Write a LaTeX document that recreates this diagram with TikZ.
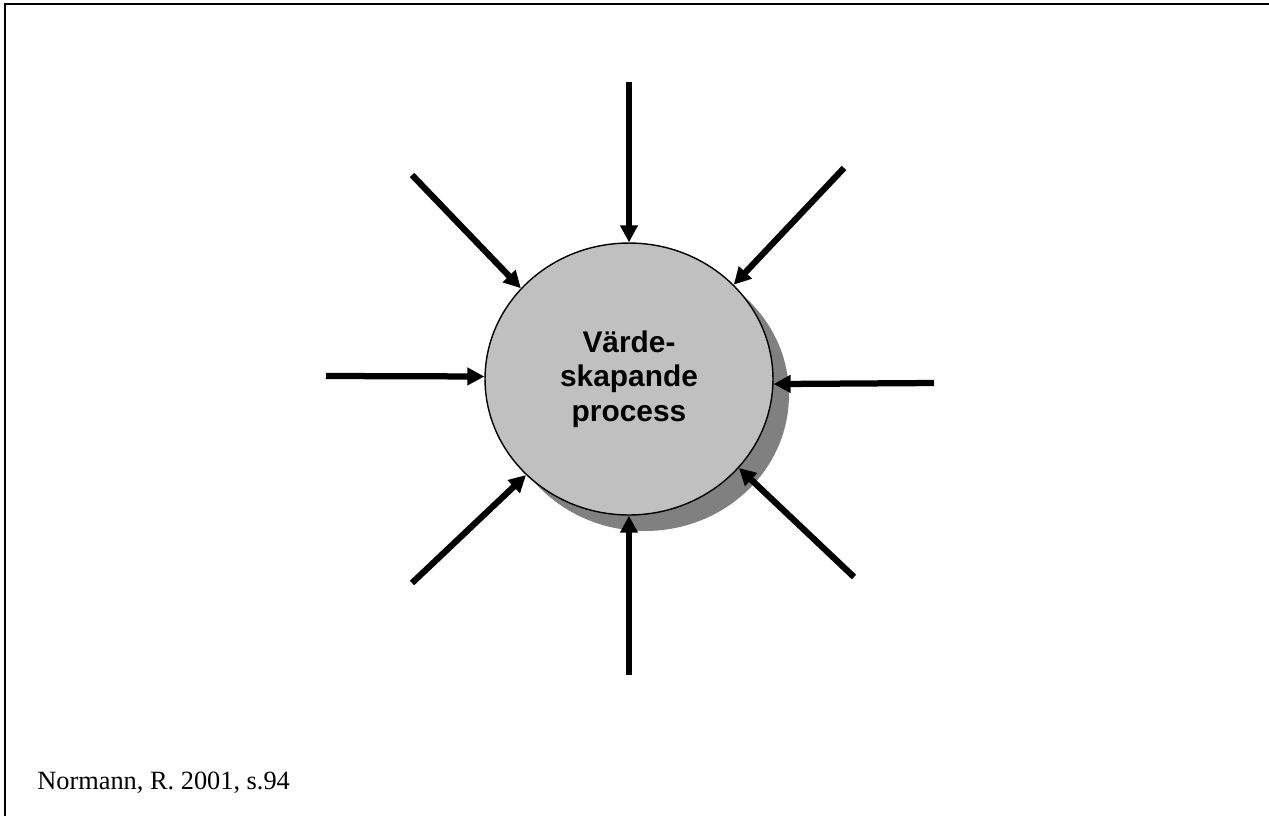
\documentclass[tikz,border=0pt]{standalone}
\usepackage{fontspec}
\setmainfont{Liberation Serif}
\setsansfont{Liberation Sans}
\usetikzlibrary{arrows.meta,shapes.geometric,shadows}
\definecolor{procFill}  {RGB}{192,192,192}
\definecolor{procShadow}{RGB}{128,128,128}

\begin{document}
\begin{tikzpicture}[
    x=0.02cm, y=-0.02cm,
    proc/.style={ellipse,draw,line width=0.8pt,fill=procFill,inner sep=0pt,
                 minimum width=5.76cm,minimum height=5.44cm,align=center,
                 font=\sffamily\bfseries\fontsize{17}{19.6}\selectfont,
                 drop shadow={shadow xshift=0.32cm,shadow yshift=-0.32cm,
                              fill=procShadow,opacity=1}},
    arr/.style={-{Triangle[length=3.4mm,width=3.4mm]},line width=1.25mm},
    frame/.style={line width=0.4mm}
  ]
  \useasboundingbox (0,0) rectangle (1269,816);
  % frame
  \draw[frame] (5,816) |- (1269,4);
  % process
  \node[proc] (proc) at (629,379) {Värde-\\skapande\\process};
  % arrow starts
  \coordinate (inN)  at (629,82);
  \coordinate (inNE) at (844,168);
  \coordinate (inE)  at (934,383);
  \coordinate (inSE) at (854,577);
  \coordinate (inS)  at (629,675);
  \coordinate (inSW) at (412,583);
  \coordinate (inW)  at (326,376);
  \coordinate (inNW) at (412,175);
  % arrows
  \draw[arr] (inN)  -- (proc.north);
  \draw[arr] (inNE) -- (proc.42);
  \draw[arr] (inE)  -- (proc.358);
  \draw[arr] (inSE) -- (proc.321);
  \draw[arr] (inS)  -- (proc.south);
  \draw[arr] (inSW) -- (proc.223);
  \draw[arr] (inW)  -- (proc.179);
  \draw[arr] (inNW) -- (proc.140);
  % source
  \node[anchor=base west,inner sep=0pt,font=\fontsize{15}{17}\selectfont]
    (src) at (37,789) {Normann, R. 2001, s.94};
\end{tikzpicture}
\end{document}
